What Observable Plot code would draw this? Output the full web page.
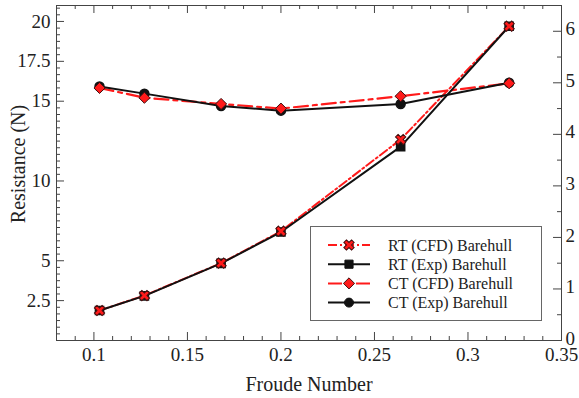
<!DOCTYPE html>
<html><head><meta charset="utf-8">
<script src="https://cdn.jsdelivr.net/npm/d3@7"></script>
<script src="https://cdn.jsdelivr.net/npm/@observablehq/plot@0.6"></script>
<style>
html,body{margin:0;padding:0;background:#fff;}
#chart{position:relative;width:579px;height:398px;}
#chart svg text{font-family:"Liberation Serif","DejaVu Serif","Times New Roman",serif;}
#legend{position:absolute;left:0;top:0;pointer-events:none;}
</style></head><body><div id="chart"></div>
<script>
// ---- data ----
const froude = [0.103, 0.127, 0.168, 0.200, 0.264, 0.322];
const rtCfd = [1.88, 2.82, 4.85, 6.85, 12.6, 19.7];
const rtExp = [1.88, 2.80, 4.83, 6.80, 12.15, 19.7];
const ctCfd = [4.90, 4.71, 4.59, 4.50, 4.74, 4.99];
const ctExp = [4.93, 4.79, 4.55, 4.46, 4.59, 5.00];
const seriesNames = ["RT (CFD) Barehull", "RT (Exp) Barehull", "CT (CFD) Barehull", "CT (Exp) Barehull"];
const leftTickLabels = [2.5, 5, 10, 15, 17.5, 20];
const rightTickLabels = [0, 1, 2, 3, 4, 5, 6];
const xTickLabels = [0.1, 0.15, 0.2, 0.25, 0.3, 0.35];
const xTitle = "Froude Number";
const yTitle = "Resistance (N)";
const leftDomain = [0, 21];
const rightDomain = [0, 6.5];
const xDomain = [0.08, 0.35];

// ---- layout ----
const W = 579, H = 398, mL = 56, mR = 18, mT = 5, mB = 58;
const iW = W - mL - mR, iH = H - mT - mB;
const k = leftDomain[1] / rightDomain[1]; // right axis -> left scale
const FONT = "Liberation Serif, DejaVu Serif, Times New Roman, serif";
const RED = "#ff1a1a";

const rt = froude.map((f, i) => ({f, cfd: rtCfd[i], exp: rtExp[i]}));
const ct = froude.map((f, i) => ({f, cfd: ctCfd[i] * k, exp: ctExp[i] * k}));

const near = (a, arr) => arr.some(b => Math.abs(a - b) < 1e-6);
const leftMinor = d3.range(0, 51).map(i => i * 2.5 / 6).filter(v => v <= 21 && !near(v, leftTickLabels));
const rightMinor = d3.range(0, 7).map(i => i + 0.5).filter(v => v <= 6.5);
const xMinor = d3.range(8, 36).map(i => i / 100).filter(v => !near(v, xTickLabels));

const plot = Plot.plot({
  width: W, height: H,
  marginLeft: mL, marginRight: mR, marginTop: mT, marginBottom: mB,
  style: {fontFamily: FONT, fontSize: "19px", color: "#222", background: "transparent"},
  x: {domain: xDomain},
  y: {domain: leftDomain},
  marks: [
    // tick marks (inward)
    Plot.tickY(leftTickLabels, {y: d => d, insetRight: iW - 8, stroke: "#444"}),
    Plot.tickY(leftMinor, {y: d => d, insetRight: iW - 4, stroke: "#444"}),
    Plot.tickY(rightTickLabels, {y: d => d * k, insetLeft: iW - 8, stroke: "#444"}),
    Plot.tickY(rightMinor, {y: d => d * k, insetLeft: iW - 4, stroke: "#444"}),
    Plot.tickX(xTickLabels, {x: d => d, insetTop: iH - 8, stroke: "#444"}),
    Plot.tickX(xMinor, {x: d => d, insetTop: iH - 4, stroke: "#444"}),
    Plot.tickX(xTickLabels, {x: d => d, insetBottom: iH - 8, stroke: "#444"}),
    Plot.tickX(xMinor, {x: d => d, insetBottom: iH - 4, stroke: "#444"}),
    // axes labels
    Plot.axisY(leftTickLabels, {anchor: "left", tickSize: 0, tickPadding: 6, label: null, fontSize: 19,
      tickFormat: d => String(d)}),
    Plot.axisY(rightTickLabels.map(v => v * k), {anchor: "right", tickSize: 0, tickPadding: 4, label: null, fontSize: 19,
      dy: -2, tickFormat: d => String(Math.round(d / k * 10) / 10)}),
    Plot.axisX(xTickLabels, {anchor: "bottom", tickSize: 0, tickPadding: 7, label: null, fontSize: 19,
      tickFormat: d => String(d)}),
    Plot.text([yTitle], {frameAnchor: "left", textAnchor: "middle", lineAnchor: "middle", dx: -38, dy: -9, rotate: -90, fontSize: 20, fill: "#222"}),
    Plot.text([xTitle], {frameAnchor: "bottom", textAnchor: "middle", lineAnchor: "middle", dy: 44, fontSize: 20, fill: "#222"}),
    // lines
    Plot.line(rt, {x: "f", y: "cfd", stroke: RED, strokeWidth: 2, strokeDasharray: "9,3,2,3"}),
    Plot.line(ct, {x: "f", y: "cfd", stroke: RED, strokeWidth: 2.2, strokeDasharray: "14,5,4,5"}),
    Plot.line(rt, {x: "f", y: "exp", stroke: "#111", strokeWidth: 2}),
    Plot.line(ct, {x: "f", y: "exp", stroke: "#111", strokeWidth: 2}),
    // markers
    Plot.dot(rt, {x: "f", y: "exp", symbol: "square", r: 4.6, fill: "#111", stroke: "#111"}),
    Plot.dot(ct, {x: "f", y: "exp", symbol: "circle", r: 4.5, fill: "#111", stroke: "#111"}),
    Plot.dot(rt, {x: "f", y: "cfd", symbol: "cross", rotate: 45, r: 4.6, fill: RED, stroke: "#401010", strokeWidth: 1}),
    Plot.dot(ct, {x: "f", y: "cfd", symbol: "diamond2", r: 5, fill: RED, stroke: "#401010", strokeWidth: 1}),
    Plot.frame({stroke: "#444", strokeWidth: 1})
  ]
});
const chart = document.getElementById("chart");
chart.appendChild(plot);

// ---- legend overlay ----
const lg = d3.select(chart).append("svg").attr("id", "legend").attr("width", W).attr("height", H)
  .style("font-family", FONT);
lg.append("rect").attr("x", 310.5).attr("y", 226.5).attr("width", 231).attr("height", 94)
  .attr("fill", "#fff").attr("stroke", "#666").attr("stroke-width", 1);
const styles = [
  {stroke: RED, dash: "9,3,2,3", sym: d3.symbolCross, rot: 45, r: 4.6, fill: RED, ms: "#401010"},
  {stroke: "#111", dash: null, sym: d3.symbolSquare, rot: 0, r: 4.6, fill: "#111", ms: "#111"},
  {stroke: RED, dash: "14,5,4,5", sym: d3.symbolDiamond2, rot: 0, r: 5, fill: RED, ms: "#401010"},
  {stroke: "#111", dash: null, sym: d3.symbolCircle, rot: 0, r: 4.5, fill: "#111", ms: "#111"}
];
seriesNames.forEach((name, i) => {
  const y = 245 + i * 19.2, s = styles[i];
  lg.append("line").attr("x1", 328).attr("x2", 370).attr("y1", y).attr("y2", y)
    .attr("stroke", s.stroke).attr("stroke-width", 2).attr("stroke-dasharray", s.dash);
  lg.append("path").attr("d", d3.symbol(s.sym, Math.PI * s.r * s.r)())
    .attr("transform", `translate(349,${y}) rotate(${s.rot})`)
    .attr("fill", s.fill).attr("stroke", s.ms).attr("stroke-width", 1);
  lg.append("text").attr("x", 388).attr("y", y).attr("dy", "0.35em")
    .attr("font-size", 16).attr("fill", "#222").text(name);
});
</script></body></html>
